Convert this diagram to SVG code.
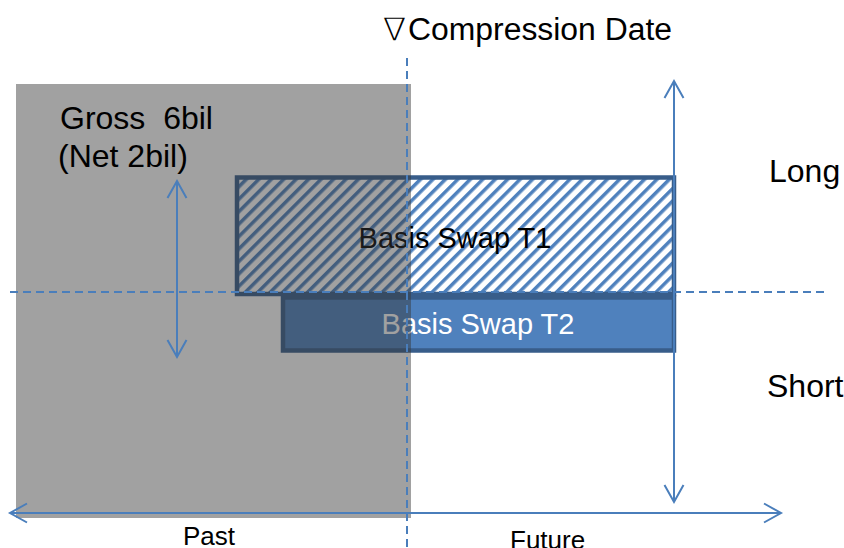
<svg xmlns="http://www.w3.org/2000/svg" width="844" height="548" viewBox="0 0 844 548">
  <style>
    .lbl { font-family: "Liberation Sans", Arial, sans-serif; fill: #000; }
    .tri { font-family: "DejaVu Sans", sans-serif; font-weight: 200; }
    .axis { stroke: #4a7ebb; stroke-width: 2; fill: none; }
    .dash { stroke: #4a7ebb; stroke-width: 2; fill: none; stroke-dasharray: 8 5; }
    .deal { stroke: #385d8a; stroke-width: 4.5; }
  </style>
  <defs>
    <pattern id="hatch" patternUnits="userSpaceOnUse" width="8.8" height="8.8" patternTransform="rotate(45)">
      <rect width="8.8" height="8.8" fill="#ffffff"/>
      <rect width="3.5" height="8.8" fill="#4f81bd"/>
    </pattern>
    <marker id="chev" markerUnits="userSpaceOnUse" markerWidth="40" markerHeight="40" viewBox="0 0 40 40" refX="20" refY="20" orient="auto-start-reverse">
      <path d="M3,10.5 L20,20 L3,29.5" fill="none" stroke="#4a7ebb" stroke-width="2"/>
    </marker>
  </defs>

  <rect width="844" height="548" fill="#ffffff"/>

  <!-- trade T1: hatched long leg -->
  <g id="swap-t1">
    <rect class="deal" x="237" y="177.5" width="437" height="116.5" fill="url(#hatch)"/>
    <text class="lbl" x="455" y="248" font-size="29" text-anchor="middle">Basis Swap T1</text>
  </g>

  <!-- trade T2: solid short leg -->
  <g id="swap-t2">
    <rect class="deal" x="283" y="297.5" width="391" height="53" fill="#4f81bd"/>
    <text class="lbl" x="478" y="333.5" font-size="29" text-anchor="middle" style="fill:#ffffff">Basis Swap T2</text>
  </g>

  <!-- shaded past period, laid over the trades -->
  <g id="past-region">
    <rect x="16" y="84" width="395" height="434" fill="#373737" fill-opacity="0.47"/>
  </g>

  <g id="connectors">
    <!-- compression date and long/short divider -->
    <line class="dash" x1="407" y1="58" x2="407" y2="548"/>
    <line class="dash" x1="10" y1="292" x2="828" y2="292"/>
    <!-- time axis -->
    <line class="axis" x1="10" y1="513" x2="781" y2="513" marker-start="url(#chev)" marker-end="url(#chev)"/>
    <!-- long/short axis -->
    <line class="axis" x1="674" y1="81" x2="674" y2="502" marker-start="url(#chev)" marker-end="url(#chev)"/>
    <!-- net exposure span -->
    <line class="axis" x1="177" y1="181" x2="177" y2="357" marker-start="url(#chev)" marker-end="url(#chev)"/>
  </g>

  <g id="labels">
    <text class="lbl" x="383" y="40" font-size="31"><tspan class="tri" textLength="23" lengthAdjust="spacingAndGlyphs">∇</tspan><tspan x="408" textLength="264" lengthAdjust="spacingAndGlyphs">Compression Date</tspan></text>
    <text class="lbl" x="60" y="129" font-size="32" xml:space="preserve">Gross  6bil</text>
    <text class="lbl" x="58" y="166.5" font-size="32">(Net 2bil)</text>
    <text class="lbl" x="769" y="181.5" font-size="32">Long</text>
    <text class="lbl" x="767" y="396.5" font-size="32">Short</text>
    <text class="lbl" x="183" y="545" font-size="26">Past</text>
    <text class="lbl" x="510" y="549" font-size="26">Future</text>
  </g>
</svg>
